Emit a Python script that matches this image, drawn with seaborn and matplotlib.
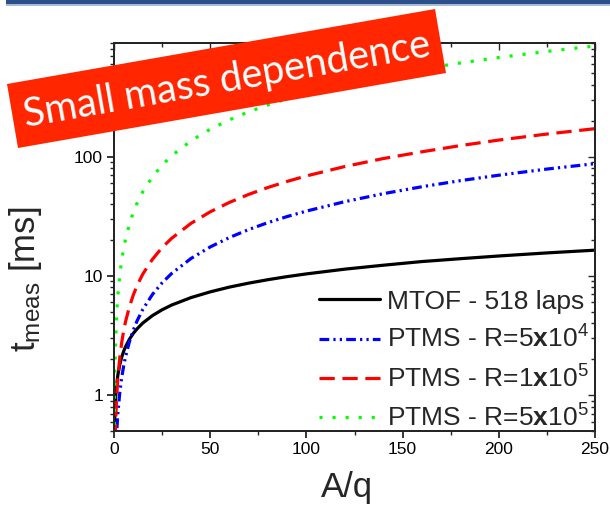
import numpy as np
import pandas as pd
import matplotlib
matplotlib.use("Agg")
import matplotlib.pyplot as plt
import seaborn as sns
from matplotlib.ticker import LogLocator, FixedLocator, NullFormatter, MultipleLocator
from matplotlib.patches import Polygon, Rectangle

# ---- data ----
aq = [0.1, 0.2, 0.3, 0.5, 0.75, 1, 1.5, 2, 3, 4, 5, 6, 8, 10, 12, 15, 20, 25, 30,
      40, 50, 60, 70, 80, 90, 100, 120, 140, 160, 180, 200, 225, 250]
mtof = [0.33, 0.47, 0.57, 0.74, 0.9, 1.04, 1.27, 1.47, 1.8, 2.08, 2.33, 2.55, 2.94,
        3.29, 3.6, 4.03, 4.65, 5.2, 5.7, 6.58, 7.35, 8.06, 8.7, 9.3, 9.87, 10.4,
        11.4, 12.3, 13.2, 13.95, 14.7, 15.6, 16.45]
ptms_5e4 = [0.035, 0.07, 0.105, 0.175, 0.26, 0.35, 0.52, 0.70, 1.05, 1.4, 1.75, 2.1,
            2.8, 3.5, 4.2, 5.25, 7.0, 8.75, 10.5, 14, 17.5, 21, 24.5, 28, 31.5, 35,
            42, 49, 56, 63, 70, 78.8, 87.5]
ptms_1e5 = [0.069, 0.14, 0.21, 0.35, 0.52, 0.69, 1.04, 1.38, 2.07, 2.76, 3.45, 4.14,
            5.5, 6.9, 8.3, 10.4, 13.8, 17.3, 20.7, 27.6, 34.5, 41.4, 48.3, 55.2,
            62.1, 69, 82.8, 96.6, 110, 124, 138, 155, 172]
ptms_5e5 = [0.34, 0.68, 1.02, 1.7, 2.55, 3.4, 5.1, 6.8, 10.2, 13.6, 17, 20.4, 27.2,
            34, 40.8, 51, 68, 85, 102, 136, 170, 204, 238, 272, 306, 340, 408, 476,
            544, 612, 680, 765, 850]
labels = ["MTOF - 518 laps",
          r"PTMS - R=5$\mathbf{x}$10$^{4}$",
          r"PTMS - R=1$\mathbf{x}$10$^{5}$",
          r"PTMS - R=5$\mathbf{x}$10$^{5}$"]
x_ticks = [0, 50, 100, 150, 200, 250]
y_ticks = [1, 10, 100]
y_ticklabels = ["1", "10", "100"]
title_text = "Small mass dependence"

sns.set_style("ticks")
plt.rcParams["font.family"] = ["Liberation Sans", "DejaVu Sans"]
plt.rcParams["mathtext.fontset"] = "custom"
plt.rcParams["mathtext.rm"] = "Liberation Sans"
plt.rcParams["mathtext.it"] = "Liberation Sans:italic"
plt.rcParams["mathtext.bf"] = "Liberation Sans:bold"
plt.rcParams["lines.scale_dashes"] = False

W, H = 610, 507
fig = plt.figure(figsize=(W / 100, H / 100), dpi=100)
L, R, T, B = 114, 595, 43, 431
ax = fig.add_axes([L / W, 1 - B / H, (R - L) / W, (B - T) / H])

series = [mtof, ptms_5e4, ptms_1e5, ptms_5e5]
colors = ["black", "#0000ff", "#ff0000", "#00ff00"]
styles = ["-", (0, (7, 3, 1.6, 3, 1.6, 3)), (0, (11, 5.5)), (0, (2.2, 7.2))]
for ys, c, ls, lab in zip(series, colors, styles, labels):
    df = pd.DataFrame({"A/q": aq, "t": ys})
    sns.lineplot(data=df, x="A/q", y="t", ax=ax, color=c, linestyle=ls,
                 linewidth=2.3, label=lab, estimator=None)

ax.set_yscale("log")
ax.set_xlim(0, 250)
ax.set_ylim(0.5, 900)
ax.xaxis.set_major_locator(FixedLocator(x_ticks))
ax.xaxis.set_minor_locator(MultipleLocator(25))
ax.set_yticks(y_ticks)
ax.set_yticklabels(y_ticklabels)
ax.yaxis.set_minor_locator(LogLocator(base=10, subs=np.arange(2, 10)))
ax.yaxis.set_minor_formatter(NullFormatter())
ax.tick_params(which="major", direction="out", length=5, width=1.1,
               labelsize=12.5, colors="black", pad=3)
ax.tick_params(which="minor", direction="out", length=3, width=1.0)
for s in ax.spines.values():
    s.set_visible(True)
    s.set_linewidth(1.3)
    s.set_color("black")
ax.set_xlabel("")
ax.set_ylabel("")

# mirrored inward ticks on top and right
axr = ax.twinx()
axr.set_yscale("log")
axr.set_ylim(ax.get_ylim())
axr.set_yticks(y_ticks)
axr.yaxis.set_minor_locator(LogLocator(base=10, subs=np.arange(2, 10)))
axr.tick_params(which="both", direction="in", labelright=False, width=1.0)
axr.tick_params(which="major", length=5)
axr.tick_params(which="minor", length=3)
axt = ax.twiny()
axt.set_xlim(ax.get_xlim())
axt.xaxis.set_major_locator(FixedLocator(x_ticks))
axt.xaxis.set_minor_locator(MultipleLocator(25))
axt.tick_params(which="both", direction="in", labeltop=False, width=1.0)
axt.tick_params(which="major", length=5)
axt.tick_params(which="minor", length=3)
for a in (axr, axt):
    for s in a.spines.values():
        s.set_linewidth(1.3)

ax.text(0.485, -0.17, "A/q", transform=ax.transAxes, ha="center",
        va="baseline", fontsize=25)
ax.text(-0.185, 0.39, r"t$_{\mathregular{meas}}$ [ms]", transform=ax.transAxes,
        ha="center", va="center", rotation=90, fontsize=25)

leg = ax.legend(loc="lower right", bbox_to_anchor=(1.017, -0.039), frameon=False,
                fontsize=19, handlelength=2.3, handletextpad=0.27,
                labelspacing=0.46, borderaxespad=0.15)

# overlay: header bar and red banner (pixel coordinates)
ov = fig.add_axes([0, 0, 1, 1], zorder=10)
ov.set_xlim(0, W)
ov.set_ylim(H, 0)
ov.axis("off")
ov.patch.set_alpha(0)
ov.add_patch(Rectangle((6, 0), W - 6, 4, color="#2b4f8a", lw=0))
ov.add_patch(Rectangle((6, 4), W - 6, 1.5, color="#a8bad6", lw=0))
ov.add_patch(Polygon([(7, 84), (435, 9), (446, 73), (18, 148)], closed=True,
                     facecolor="#ff2600", edgecolor="none"))
ov.text(227, 80, title_text, ha="center", va="center", rotation=9.94,
        rotation_mode="anchor", color="white", fontsize=28.5, family="Lato")

fig.savefig("out.png", dpi=100)
